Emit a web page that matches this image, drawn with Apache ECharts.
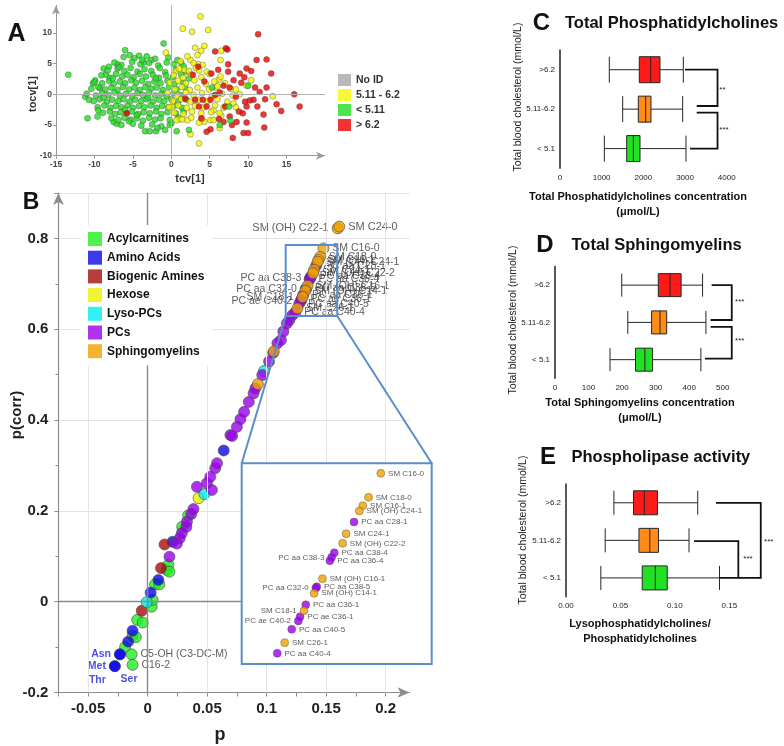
<!DOCTYPE html>
<html><head><meta charset="utf-8">
<script src="https://cdn.jsdelivr.net/npm/echarts@6/dist/echarts.min.js"></script>
<style>html,body{margin:0;padding:0;background:#fff}#c{width:784px;height:746px}</style>
</head><body><div id="c"></div>
<script>
// ---------------- Panel A data (tcv[1], tocv[1]) ----------------
const aLegend = ['No ID', '5.11 - 6.2', '< 5.11', '> 6.2'];
const aGreen = [
 [-13.4,3.2],[-11.2,-0.4],[-10.9,-3.9],[-10.7,-0.9],[-10.2,1.8],[-9.6,-3.6],[-9.9,2.3],[-9.3,1.0],[-8.5,3.2],[-8.1,4.5],[-8.8,4.2],
 [-7.5,-4.5],[-7.1,-4.8],[-7.0,4.9],[-6.0,7.2],[-5.4,6.4],[-4.2,6.3],[-3.6,5.2],[-2.6,5.6],[-3.4,-6.0],[-2.8,-6.0],[-2.0,-6.0],
 [-0.8,-5.8],[-1.0,8.3],[0.7,-6.0],[0.0,-4.7],[1.3,5.1],
 [-6.2,6.1],[-4.8,5.9],[-3.2,6.2],[-2.1,5.8],[-0.4,6.0],[0.8,5.6],
 [-7.4,5.2],[-6.5,4.8],[-5.1,5.3],[-4.0,4.9],[-2.9,5.1],[-1.7,4.7],[-0.6,5.2],[0.3,4.9],[1.6,4.6],
 [-8.3,3.9],[-7.0,4.2],[-6.1,3.8],[-5.3,4.3],[-4.4,3.7],[-3.5,4.1],[-2.6,3.8],[-1.5,4.3],[-0.8,3.6],[0.6,4.0],[1.9,3.7],
 [-9.1,3.1],[-8.0,2.7],[-7.2,3.3],[-6.4,2.9],[-5.7,3.2],[-4.9,2.8],[-4.1,3.3],[-3.3,2.9],[-2.4,3.2],[-1.6,2.7],[-0.7,3.1],[0.2,2.8],[1.3,3.2],[2.3,2.6],
 [-10.0,2.0],[-9.0,1.8],[-8.1,2.2],[-7.5,1.7],[-6.7,2.1],[-6.0,1.8],[-5.2,2.3],[-4.6,1.9],[-3.8,2.2],[-3.0,1.7],[-2.2,2.1],[-1.4,1.8],[-0.5,2.2],[0.4,1.7],[1.5,2.0],
 [-10.4,0.9],[-9.5,1.2],[-8.6,0.8],[-7.8,1.1],[-7.0,0.7],[-6.3,1.2],[-5.5,0.8],[-4.8,1.1],[-4.1,0.7],[-3.4,1.2],[-2.6,0.9],[-1.9,1.1],[-1.1,0.7],[-0.3,1.2],[0.7,0.8],[1.8,1.1],
 [-11.0,0.1],[-9.8,-0.2],[-9.0,0.2],[-8.2,-0.1],[-7.4,0.3],[-6.7,-0.2],[-5.9,0.1],[-5.1,-0.3],[-4.4,0.2],[-3.7,-0.1],[-2.9,0.3],[-2.1,-0.2],[-1.3,0.1],[-0.6,-0.3],[0.3,0.2],[1.2,-0.1],
 [-10.1,-1.1],[-9.3,-0.8],[-8.4,-1.2],[-7.7,-0.9],[-6.9,-1.1],[-6.2,-0.8],[-5.4,-1.2],[-4.7,-0.9],[-3.9,-1.1],[-3.2,-0.8],[-2.4,-1.2],[-1.6,-0.9],[-0.9,-1.1],[0.0,-0.8],[0.9,-1.2],[2.0,-0.9],
 [-9.6,-2.1],[-8.7,-1.8],[-7.9,-2.2],[-7.2,-1.9],[-6.5,-2.1],[-5.7,-1.8],[-5.0,-2.2],[-4.2,-1.9],[-3.5,-2.1],[-2.7,-1.8],[-1.9,-2.2],[-1.2,-1.9],[-0.4,-2.1],[0.5,-1.8],[1.4,-2.2],
 [-8.9,-3.0],[-8.0,-2.8],[-7.3,-3.2],[-6.6,-2.9],[-5.8,-3.1],[-5.1,-2.8],[-4.3,-3.2],[-3.6,-2.9],[-2.8,-3.1],[-2.0,-2.8],[-1.3,-3.2],[-0.5,-2.9],[0.6,-3.1],[1.6,-2.8],
 [-7.8,-3.9],[-6.9,-4.2],[-6.1,-3.8],[-5.3,-4.1],[-4.5,-3.9],[-3.7,-4.3],[-2.9,-3.8],[-2.1,-4.1],[-1.4,-3.9],[-0.2,-4.2],[0.9,-3.8],
 [-6.5,-5.0],[-5.0,-4.8],[-3.9,-5.1],[-2.5,-4.9],[-1.3,-5.2],[-0.2,-5.0],
 [-8.8,-0.5],[-6.0,-2.5],[-3.0,-0.5],[-4.5,-3.4],[-7.6,2.6],[-5.5,-4.4],[-2.0,2.6],[-6.8,4.4],[-3.8,5.6],[-9.5,-2.6],[-1.8,-5.5]
];
const aYellow = [
 [3.8,12.7],[1.5,10.7],[2.7,10.2],[4.8,10.5],[4.3,7.9],[3.1,7.6],[3.9,7.1],[-0.7,6.8],[6.5,7.1],[6.4,5.6],[2.5,5.6],[1.2,5.4],
 [2.1,6.2],[3.4,6.4],[3.5,4.9],[3.6,3.9],[1.7,4.0],[0.6,3.8],[10.4,2.3],[13.2,-0.3],[9.8,1.4],[8.4,0.8],[8.9,0.0],[6.2,2.4],
 [5.8,1.1],[8.1,-1.5],[8.4,-2.1],[6.5,-3.5],[5.5,-2.6],[5.1,-4.2],[4.3,-4.5],[3.6,-4.6],[2.5,-6.5],[3.6,-8.0],[2.1,-4.2],
 [1.1,-4.0],[6.3,-5.5],[0.7,-4.2],[0.1,-2.0],
 [2.9,5.1],[4.1,4.8],[1.0,4.2],[2.3,3.8],[3.2,4.3],[4.6,3.7],
 [0.3,3.1],[1.5,2.7],[2.6,3.2],[3.9,2.8],[5.0,3.3],[6.4,2.9],
 [-0.2,1.9],[0.9,2.2],[1.9,1.8],[3.0,2.3],[4.5,1.7],[5.6,2.1],[7.0,1.8],
 [0.5,0.8],[1.4,1.2],[2.4,0.7],[3.4,1.1],[4.9,0.8],[6.0,1.3],[7.7,0.9],
 [-0.5,0.2],[0.8,-0.2],[1.9,0.3],[2.9,-0.1],[4.0,0.2],[5.3,-0.3],[6.6,0.1],[8.0,-0.2],
 [0.2,-1.1],[1.3,-0.8],[2.5,-1.2],[3.6,-0.9],[4.7,-1.1],[6.0,-0.8],[7.3,-1.2],
 [-0.3,-2.1],[0.9,-1.8],[2.0,-2.2],[3.1,-1.9],[4.2,-2.1],[5.7,-1.8],[6.8,-2.2],
 [0.4,-3.0],[1.6,-3.2],[2.7,-2.8],[3.9,-3.1],[5.2,-2.9],[6.3,-3.1],
 [1.4,-4.1],[2.6,-3.8],[4.0,-4.0],[5.5,-4.2]
];
const aRed = [
 [11.3,9.8],[12.4,5.7],[13.0,3.4],[12.4,1.1],[12.2,-0.8],[13.7,-1.6],[14.3,-2.7],[16.0,0.0],[16.7,-2.0],[12.1,-5.4],[9.8,-4.6],
 [9.4,-6.3],[10.0,-6.3],[8.0,-7.1],[7.9,-5.0],[5.1,-5.7],[4.6,-6.1],[6.2,-4.0],[7.1,7.5],[7.3,7.3],[5.7,7.0],[9.8,4.2],[10.4,3.8],
 [11.1,5.6],[7.4,4.9],[8.9,3.4],[7.4,3.7],[6.1,4.0],[5.2,3.4],[4.3,2.1],[10.9,1.1],[10.7,-0.9],[11.2,-2.0],[9.8,-2.0],[9.3,-3.1],
 [8.8,-2.8],[7.6,-3.6],[7.0,-2.0],[8.4,-0.4],[7.6,1.1],[6.8,1.4],[6.3,0.3],[5.1,-0.9],[4.1,-0.9],[4.6,-2.0],[3.6,-2.0],[3.1,-0.9],
 [1.8,-0.7],[3.9,-3.9],[5.7,-0.1],[9.1,1.9],[8.1,2.3],[9.6,-1.2],[12.0,-3.3],[-5.8,-3.1],[3.5,4.5],[2.8,3.2],[9.5,2.8],[10.2,-1.0],
 [8.5,-4.5],[6.8,-4.5],[11.5,0.4]
];
const aGreenTop = [[7.5,-2.0],[6.3,-5.0],[7.7,-4.3],[10.0,1.4],[5.3,1.1],[2.3,-5.8]];

// ---------------- Panel B data (p, p(corr), optional label) ----------------
const bCategories = ['Acylcarnitines','Amino Acids','Biogenic Amines','Hexose','Lyso-PCs','PCs','Sphingomyelins'];
const bAcylcarnitines = [
 [-0.019,-0.100],[-0.0135,-0.116,'C5-OH (C3-DC-M)'],[-0.0127,-0.139,'C16-2'],[-0.0127,-0.0755],[-0.0099,-0.078],
 [-0.0088,-0.040],[-0.0042,-0.046],[0.0034,-0.011],[0.0042,0.004],[0.0062,0.038],[0.0098,0.038],[0.016,0.070],
 [0.0174,0.081],[0.0183,0.066],[0.029,0.165],[0.034,0.19]
];
const bAminoAcids = [
 [-0.0276,-0.142,'Met'],[-0.0276,-0.142,'Thr'],[-0.0233,-0.116,'Asn'],[-0.0233,-0.116,'Ser'],[-0.0164,-0.088],
 [-0.0127,-0.064],[0.0025,0.020],[0.009,0.048],[0.021,0.132],[0.0639,0.333]
];
const bBiogenicAmines = [[-0.005,-0.020],[0.0112,0.074],[0.0142,0.126]];
const bHexose = [[0.0428,0.228]];
const bLysoPCs = [[-0.0008,-0.001],[0.0476,0.237],[0.0977,0.508]];
const bPCs = [
 [0.0183,0.099],[0.0245,0.128],[0.027,0.14],[0.0287,0.151],[0.0325,0.165],[0.033,0.176],[0.0366,0.193],[0.0385,0.204],
 [0.0414,0.253],[0.0498,0.261],[0.054,0.246],[0.0526,0.275],[0.0568,0.294],[0.0583,0.305],[0.0695,0.367],[0.071,0.365],
 [0.075,0.385],[0.078,0.402],[0.081,0.418],[0.085,0.44],[0.089,0.459],[0.0905,0.47],[0.0963,0.499],[0.102,0.529],
 [0.1055,0.548],[0.109,0.569],[0.112,0.576],[0.114,0.595],[0.117,0.613],[0.119,0.62],[0.1216,0.631]
];
const bSphingomyelins = [[0.0926,0.479],[0.106,0.551],[0.1596,0.822,'SM (OH) C22-1'],[0.161,0.826,'SM C24-0']];
const bTickP = [-0.05, 0.05, 0.1, 0.15, 0.2];

// zoomed region (inset)
const zoomP = [0.116, 0.1593];
const zoomPcorr = [0.6293, 0.7857];
const insetNames = ['SM C16-0','SM C18-0','SM C16-1','SM (OH) C24-1','PC aa C28-1','SM C24-1','SM (OH) C22-2','PC aa C38-4',
 'PC aa C38-3','PC aa C36-4','SM (OH) C16-1','PC aa C38-5','PC aa C32-0','SM (OH) C14-1','PC aa C36-1','SM C18-1',
 'PC ae C36-1','PC ae C40-2','PC aa C40-5','SM C26-1','PC aa C40-4'];
const insetP = [0.1477,0.1449,0.1436,0.1428,0.1416,0.1398,0.1390,0.1371,0.1365,0.1361,0.1344,0.1331,0.1329,0.1325,0.1306,0.1302,0.1293,0.1289,0.1274,0.1258,0.1241];
const insetPcorr = [0.7779,0.7592,0.7527,0.7485,0.7399,0.7308,0.7233,0.7160,0.7124,0.7098,0.6958,0.6895,0.6885,0.6844,0.6755,0.6708,0.6661,0.6628,0.6563,0.6459,0.6376];

// ---------------- Panels C, D, E (boxplots: min, Q1, median, Q3, max) ----------------
const boxCats = ['< 5.1', '5.11-6.2', '>6.2'];
const pcBox = [[1064,1600,1760,1920,3023],[1504,1879,2056,2183,2943],[1183,1903,2176,2399,2959]];
const smBox = [[164,240,268,291,435],[217,288,313,333,450],[199,308,343,376,440]];
const lpcBox = [[0.032,0.070,0.082,0.093,0.141],[0.036,0.067,0.077,0.085,0.113],[0.044,0.062,0.072,0.084,0.121]];

// ---------------- build chart ----------------
const FONT = '"Liberation Sans", Arial, sans-serif';
const chart = echarts.init(document.getElementById('c'), null, {renderer:'canvas', width:784, height:746});

const aCol = {'No ID':'#a8a8a8','5.11 - 6.2':'#f7f700','< 5.11':'#22dd22','> 6.2':'#ee0000'};
const bCol = ['#22ee22','#0a0ae6','#a80c0c','#f0f000','#00eeee','#9a00ee','#f0a000'];
const boxCol = ['#22e022','#ff8c1a','#ff1a1a'];

const leftLabels = ['PC aa C38-3','PC aa C32-0','SM C18-1','PC ae C40-2','SM (OH) C22-1'];
const special = {
  'Met': {position:'left', distance:3},
  'Asn': {position:'left', distance:3},
  'Thr': {position:[-11.5, 19.5], align:'center', verticalAlign:'middle'},
  'Ser': {position:[15, 31], align:'center', verticalAlign:'middle'}
};
function mainLabel(name, blue, size) {
  const base = {show:true, formatter:'{b}', fontFamily:FONT, fontSize:size, color: blue ? '#2020dd' : '#333',
    fontWeight: blue ? 'bold' : 'normal', position: leftLabels.includes(name) ? 'left' : 'right', distance:3};
  return Object.assign(base, special[name] || {});
}
function bItems(arr, catIdx) {
  return arr.map(d => {
    const it = {value:[d[0], d[1]]};
    if (d[2]) { it.name = d[2]; it.label = mainLabel(d[2], catIdx === 1, (d[2] === 'SM (OH) C22-1' || d[2] === 'SM C24-0') ? 11 : 10.5); }
    return it;
  });
}
const insetIdx = insetNames.map((n,i)=>i);
function insetItems(prefix, size) {
  return insetIdx.filter(i => insetNames[i].startsWith(prefix)).map(i => ({
    name: insetNames[i], value:[insetP[i], insetPcorr[i]], label: mainLabel(insetNames[i], false, size)
  }));
}
const bData = [bAcylcarnitines, bAminoAcids, bBiogenicAmines, bHexose, bLysoPCs, bPCs, bSphingomyelins];

const series = [];
// Panel A
series.push({type:'scatter', name:'No ID', xAxisIndex:0, yAxisIndex:0, data:[], itemStyle:{color:aCol['No ID']}, z:1, silent:true,
  markLine:{silent:true, symbol:['none','none'], label:{show:false}, animation:false,
    lineStyle:{color:'#b0b0b0', width:1, type:'solid'}, data:[{xAxis:0},{yAxis:0}]}});
const aStyle = c => ({color:c, borderColor:'#4a4a4a', borderWidth:0.5});
series.push({type:'scatter', name:'< 5.11', xAxisIndex:0, yAxisIndex:0, data:aGreen, symbolSize:6, itemStyle:aStyle(aCol['< 5.11'])});
series.push({type:'scatter', name:'5.11 - 6.2', xAxisIndex:0, yAxisIndex:0, data:aYellow, symbolSize:6, itemStyle:aStyle(aCol['5.11 - 6.2'])});
series.push({type:'scatter', name:'> 6.2', xAxisIndex:0, yAxisIndex:0, data:aRed, symbolSize:6, itemStyle:aStyle(aCol['> 6.2'])});
series.push({type:'scatter', name:'< 5.11', xAxisIndex:0, yAxisIndex:0, data:aGreenTop, symbolSize:6, itemStyle:aStyle(aCol['< 5.11'])});

// Panel B gridlines
series.push({type:'scatter', name:'grid', xAxisIndex:1, yAxisIndex:1, data:[], z:1, silent:true,
  markLine:{silent:true, symbol:['none','none'], label:{show:false}, animation:false,
    data: bTickP.map(v => ({xAxis:v, lineStyle:{color:'#e3e3e3', width:1, type:'solid'}}))
      .concat([{xAxis:0, lineStyle:{color:'#8a8a8a', width:1.4, type:'solid'}}, {yAxis:0, lineStyle:{color:'#8a8a8a', width:1.4, type:'solid'}}])}});
// Panel B main
bCategories.forEach((c, i) => {
  let data = bItems(bData[i], i);
  if (c === 'PCs') data = data.concat(insetItems('PC', 10.5));
  if (c === 'Sphingomyelins') data = data.concat(insetItems('SM', 10.5));
  series.push({type:'scatter', name:c, xAxisIndex:1, yAxisIndex:1, data, symbolSize:11, z:3,
    itemStyle:{color:bCol[i], borderColor:'#4a4a4a', borderWidth:0.8}});
});
// Inset
['PC','SM'].forEach(pref => {
  const ci = pref === 'PC' ? 5 : 6;
  series.push({type:'scatter', name:'inset-'+pref, xAxisIndex:2, yAxisIndex:2, data: insetItems(pref, 8), symbolSize:8, z:12,
    itemStyle:{color:bCol[ci], borderColor:'#4a4a4a', borderWidth:0.5}});
});
// Box plots
[[pcBox,3,[26,26]],[smBox,4,[23,23]],[lpcBox,5,[24,24]]].forEach(([arr, gi, bw]) => {
  series.push({type:'boxplot', xAxisIndex:gi, yAxisIndex:gi, boxWidth:bw, emphasis:{disabled:true},
    data: arr.map((v,i) => ({value:v, itemStyle:{color:boxCol[i], borderColor:'#262626', borderWidth:1}}))});
});

const fmtP = v => { const k = v/0.05; if (Math.abs(k - Math.round(k)) > 1e-6) return ''; return String(+v.toFixed(2)); };
const boxX = (gi, min, max, interval, fmt) => ({gridIndex:gi, type:'value', min, max, interval,
  axisLine:{onZero:false, lineStyle:{color:'#222', width:1.5}}, axisTick:{length:4, lineStyle:{color:'#222', width:1.2}},
  axisLabel:{fontSize:8, color:'#222', margin:5, formatter:fmt}, splitLine:{show:false}});
const boxY = gi => ({gridIndex:gi, type:'category', data:boxCats,
  axisLine:{lineStyle:{color:'#222', width:1.5}}, axisTick:{alignWithLabel:true, length:4, lineStyle:{color:'#222', width:1.2}},
  axisLabel:{fontSize:8, color:'#222', margin:5}});

const option = {
  animation:false,
  textStyle:{fontFamily:FONT},
  grid:[
    {left:56, top:5.4, width:269, height:150.3},
    {left:58.4, top:193, width:351.1, height:499.5},
    {left:241.7, top:463.3, width:190, height:200.7},
    {left:560, top:50, width:166.7, height:118.3},
    {left:555, top:266.5, width:167.7, height:111.8},
    {left:566, top:484, width:163.3, height:112.7}
  ],
  xAxis:[
    {gridIndex:0, type:'value', min:-15, max:20, interval:5,
      axisLine:{onZero:false, lineStyle:{color:'#9a9a9a'}, symbol:['none','arrow'], symbolSize:[6,9]},
      axisTick:{length:3, lineStyle:{color:'#9a9a9a'}}, axisLabel:{fontSize:8.5, fontWeight:'bold', color:'#444', margin:4, showMaxLabel:false},
      splitLine:{show:false}},
    {gridIndex:1, type:'value', min:-0.075, max:0.22, interval:0.025,
      axisLine:{onZero:false, lineStyle:{color:'#8c8c8c', width:1.2}, symbol:['none','arrow'], symbolSize:[8,12]},
      axisTick:{length:4, lineStyle:{color:'#8c8c8c'}}, axisLabel:{fontSize:15, fontWeight:'bold', color:'#222', margin:9, formatter:fmtP, showMaxLabel:false},
      splitLine:{show:false}},
    {gridIndex:2, type:'value', min:zoomP[0], max:zoomP[1], show:false},
    boxX(3, 0, 4000, 1000, v => String(v)),
    boxX(4, 0, 500, 100, v => String(v)),
    boxX(5, 0, 0.15, 0.05, v => v.toFixed(2))
  ],
  yAxis:[
    {gridIndex:0, type:'value', min:-10, max:14.5, interval:5,
      axisLine:{onZero:false, lineStyle:{color:'#9a9a9a'}, symbol:['none','arrow'], symbolSize:[6,9]},
      axisTick:{length:3, lineStyle:{color:'#9a9a9a'}}, axisLabel:{fontSize:8.5, fontWeight:'bold', color:'#444', margin:4, showMaxLabel:false},
      splitLine:{show:false}},
    {gridIndex:1, type:'value', min:-0.2, max:0.9, interval:0.2,
      axisLine:{onZero:false, lineStyle:{color:'#8c8c8c', width:1.2}, symbol:['none','arrow'], symbolSize:[8,12]},
      axisTick:{length:4, lineStyle:{color:'#8c8c8c'}}, minorTick:{show:true, splitNumber:2, length:3, lineStyle:{color:'#8c8c8c'}},
      axisLabel:{fontSize:15, fontWeight:'bold', color:'#222', margin:10, showMaxLabel:false,
        formatter: v => Math.abs(v) < 1e-9 ? '0' : v.toFixed(1)},
      splitLine:{show:true, lineStyle:{color:'#e3e3e3'}}},
    {gridIndex:2, type:'value', min:zoomPcorr[0], max:zoomPcorr[1], show:false},
    boxY(3), boxY(4), boxY(5)
  ],
  legend:[
    {data:aLegend, orient:'vertical', left:333, top:69, icon:'rect', itemWidth:13, itemHeight:12, itemGap:3,
      itemStyle:{borderWidth:0}, textStyle:{fontSize:10.5, fontWeight:'bold', color:'#333', fontFamily:FONT}, selectedMode:false},
    {data:bCategories, orient:'vertical', left:80, top:225, padding:[7,8,7,8], backgroundColor:'#fff', icon:'rect',
      itemWidth:14, itemHeight:14, itemGap:4.7, itemStyle:{borderWidth:0}, z:6,
      textStyle:{fontSize:12, fontWeight:'bold', color:'#111', fontFamily:FONT}, selectedMode:false}
  ],
  series
};
chart.setOption(option);

// ---------------- annotations ----------------
const P = (gi, v) => chart.convertToPixel({xAxisIndex:gi, yAxisIndex:gi}, v);
const gfx = [];
function T(text, x, y, o) {
  o = o || {};
  gfx.push({type:'text', x, y, rotation:o.rot || 0, z:30,
    style:{text, fill:o.color || '#111', fontFamily:FONT, fontSize:o.size || 12, fontWeight:o.weight || 'bold',
      align:o.align || 'center', verticalAlign:'middle'}});
}
// panel letters and titles
T('A', 16.5, 34, {size:25});
T('B', 31, 203, {size:23});
T('C', 541.5, 23, {size:24});
T('D', 545, 245, {size:24});
T('E', 548, 457, {size:24});
T('Total Phosphatidylcholines', 565, 23, {size:16.5, align:'left'});
T('Total Sphingomyelins', 571.5, 245, {size:16.5, align:'left'});
T('Phospholipase activity', 571.5, 457, {size:16.5, align:'left'});
// axis titles
T('tcv[1]', 190, 179, {size:11, color:'#333'});
T('tocv[1]', 33, 94, {size:11, color:'#333', rot:Math.PI/2});
T('p', 220, 735, {size:18, color:'#222'});
T('p(corr)', 17, 415, {size:15, color:'#222', rot:Math.PI/2});
T('Total Phosphatidylcholines concentration', 638, 196.7, {size:11});
T('(μmol/L)', 638, 211.7, {size:11});
T('Total Sphingomyelins concentration', 640, 403.3, {size:11});
T('(μmol/L)', 640, 418.3, {size:11});
T('Lysophosphatidylcholines/', 640, 624, {size:11});
T('Phosphatidylcholines', 640, 639, {size:11});
T('Total blood cholesterol (mmol/L)', 518, 97, {size:10.5, weight:'normal', color:'#222', rot:Math.PI/2});
T('Total blood cholesterol (mmol/L)', 513, 320, {size:10.5, weight:'normal', color:'#222', rot:Math.PI/2});
T('Total blood cholesterol (mmol/L)', 523, 530, {size:10.5, weight:'normal', color:'#222', rot:Math.PI/2});

// zoom box, inset frame and connector lines
const zb1 = P(1, [zoomP[0], zoomPcorr[1]]), zb2 = P(1, [zoomP[1], zoomPcorr[0]]);
const ib1 = P(2, [zoomP[0], zoomPcorr[1]]), ib2 = P(2, [zoomP[1], zoomPcorr[0]]);
const BLUE = '#5b8ec8';
gfx.push({type:'rect', z:8, shape:{x:ib1[0], y:ib1[1], width:ib2[0]-ib1[0], height:ib2[1]-ib1[1]}, style:{fill:'#fff', stroke:null}});
gfx.push({type:'rect', z:20, shape:{x:ib1[0], y:ib1[1], width:ib2[0]-ib1[0], height:ib2[1]-ib1[1]}, style:{fill:null, stroke:BLUE, lineWidth:2}});
gfx.push({type:'rect', z:20, shape:{x:zb1[0], y:zb1[1], width:zb2[0]-zb1[0], height:zb2[1]-zb1[1]}, style:{fill:null, stroke:BLUE, lineWidth:2}});
gfx.push({type:'line', z:20, shape:{x1:zb1[0], y1:zb2[1], x2:ib1[0], y2:ib1[1]}, style:{stroke:BLUE, lineWidth:2}});
gfx.push({type:'line', z:20, shape:{x1:zb2[0], y1:zb2[1], x2:ib2[0], y2:ib1[1]}, style:{stroke:BLUE, lineWidth:2}});

// significance brackets: [value, category position]
function catY(gi, f) { const y0 = P(gi,[0,0])[1], y1 = P(gi,[0,1])[1]; return y0 + (y1 - y0) * f; }
function bracket(gi, pts) {
  gfx.push({type:'polyline', z:25, shape:{points: pts.map(p => [P(gi,[p[0],0])[0], catY(gi, p[1])])},
    style:{stroke:'#111', lineWidth:1.8, fill:null}});
}
function stars(gi, s, v, f) { T(s, P(gi,[v,0])[0], catY(gi, f), {size:8, weight:'normal', color:'#222', align:'left'}); }
bracket(3, [[3000,2],[3780,2],[3780,1.08],[3280,1.08]]);
bracket(3, [[3280,0.91],[3780,0.91],[3780,0],[3120,0]]);
stars(3, '**', 3822, 1.5); stars(3, '***', 3822, 0.48);
bracket(4, [[467,2],[527,2],[527,1.065],[464,1.065]]);
bracket(4, [[464,0.88],[527,0.88],[527,0.03],[447,0.03]]);
stars(4, '***', 537, 1.55); stars(4, '***', 537, 0.5);
bracket(5, [[0.1378,2],[0.1789,2],[0.1789,0],[0.1409,0]]);
bracket(5, [[0.1176,0.98],[0.1583,0.98],[0.1583,0]]);
stars(5, '***', 0.1629, 0.52); stars(5, '***', 0.1819, 0.95);

chart.setOption({graphic: gfx});
</script></body></html>
